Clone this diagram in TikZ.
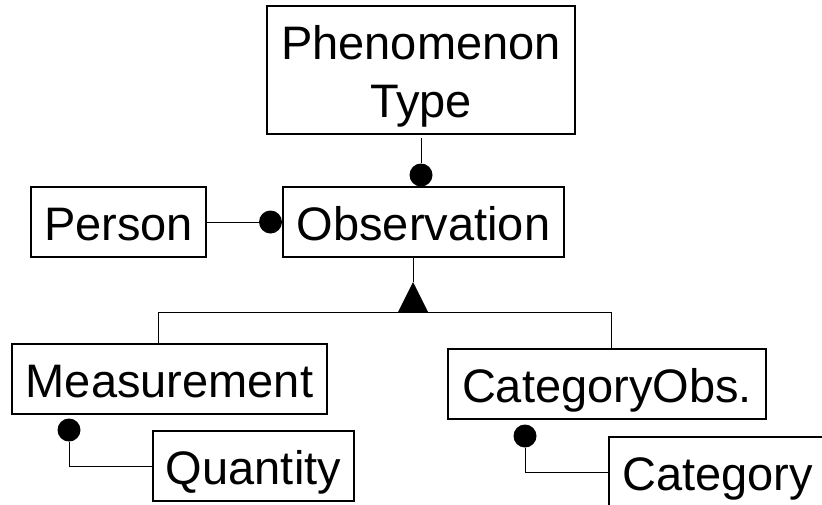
\documentclass[tikz,border=0pt]{standalone}
\usepackage{fontspec}
\setmainfont{Liberation Sans}
\tikzset{
  box/.style={draw, line width=2pt, inner sep=0pt, text height=36pt, text depth=0pt,
    font=\fontsize{47pt}{58pt}\selectfont},
  conn/.style={line width=1pt},
  dotnode/.style={circle, fill=black, inner sep=0pt, minimum size=23pt},
}
\begin{document}
\begin{tikzpicture}[x=1pt, y=-1pt]
\useasboundingbox (0,0) rectangle (822,504);
\clip (0,0) rectangle (822,504);
% boxes
\node (ph) [box, minimum width=308pt, minimum height=128pt, align=center,
  text height=94pt, text depth=0pt] at (421,70) {Phenomenon\\Type};
\node (obs) [box, minimum width=281pt, minimum height=70pt] at (423.5,222) {Observation};
\node (person) [box, minimum width=175pt, minimum height=70pt] at (118.5,222) {Person};
\node (meas) [box, minimum width=315pt, minimum height=70pt] at (169.5,379) {Measurement};
\node (catobs) [box, minimum width=318pt, minimum height=70pt] at (607,384) {CategoryObs.};
\node (qty) [box, minimum width=201pt, minimum height=70pt] at (253.5,466) {Quantity};
\node (cat) [box, minimum width=217pt, minimum height=70pt] at (717.5,472) {Category};
% dots
\node (d1) [dotnode] at (421,175) {};
\node (d2) [dotnode] at (270.5,222) {};
\node (d3) [dotnode] at (69,430) {};
\node (d4) [dotnode] at (525,436) {};
% associations
\draw[conn, shorten <=3pt] (ph.south) -- (d1.north);
\draw[conn] (person.east) -- (d2.west);
\draw[conn] (d3.south) |- (qty.west);
\draw[conn] (d4.south) |- (cat.west);
% generalisation
\coordinate (apex) at (413,282);
\coordinate (base) at (413,312);
\coordinate (bl) at (158,312);
\coordinate (br) at (611,312);
\draw[conn] (obs.south -| apex) -- (apex);
\fill (apex) -- ([xshift=-15pt]base) -- ([xshift=15pt]base) -- cycle;
\draw[conn] (bl) -- (br);
\draw[conn] (bl) -- (bl |- meas.north);
\draw[conn] (br) -- (br |- catobs.north);
\end{tikzpicture}
\end{document}
